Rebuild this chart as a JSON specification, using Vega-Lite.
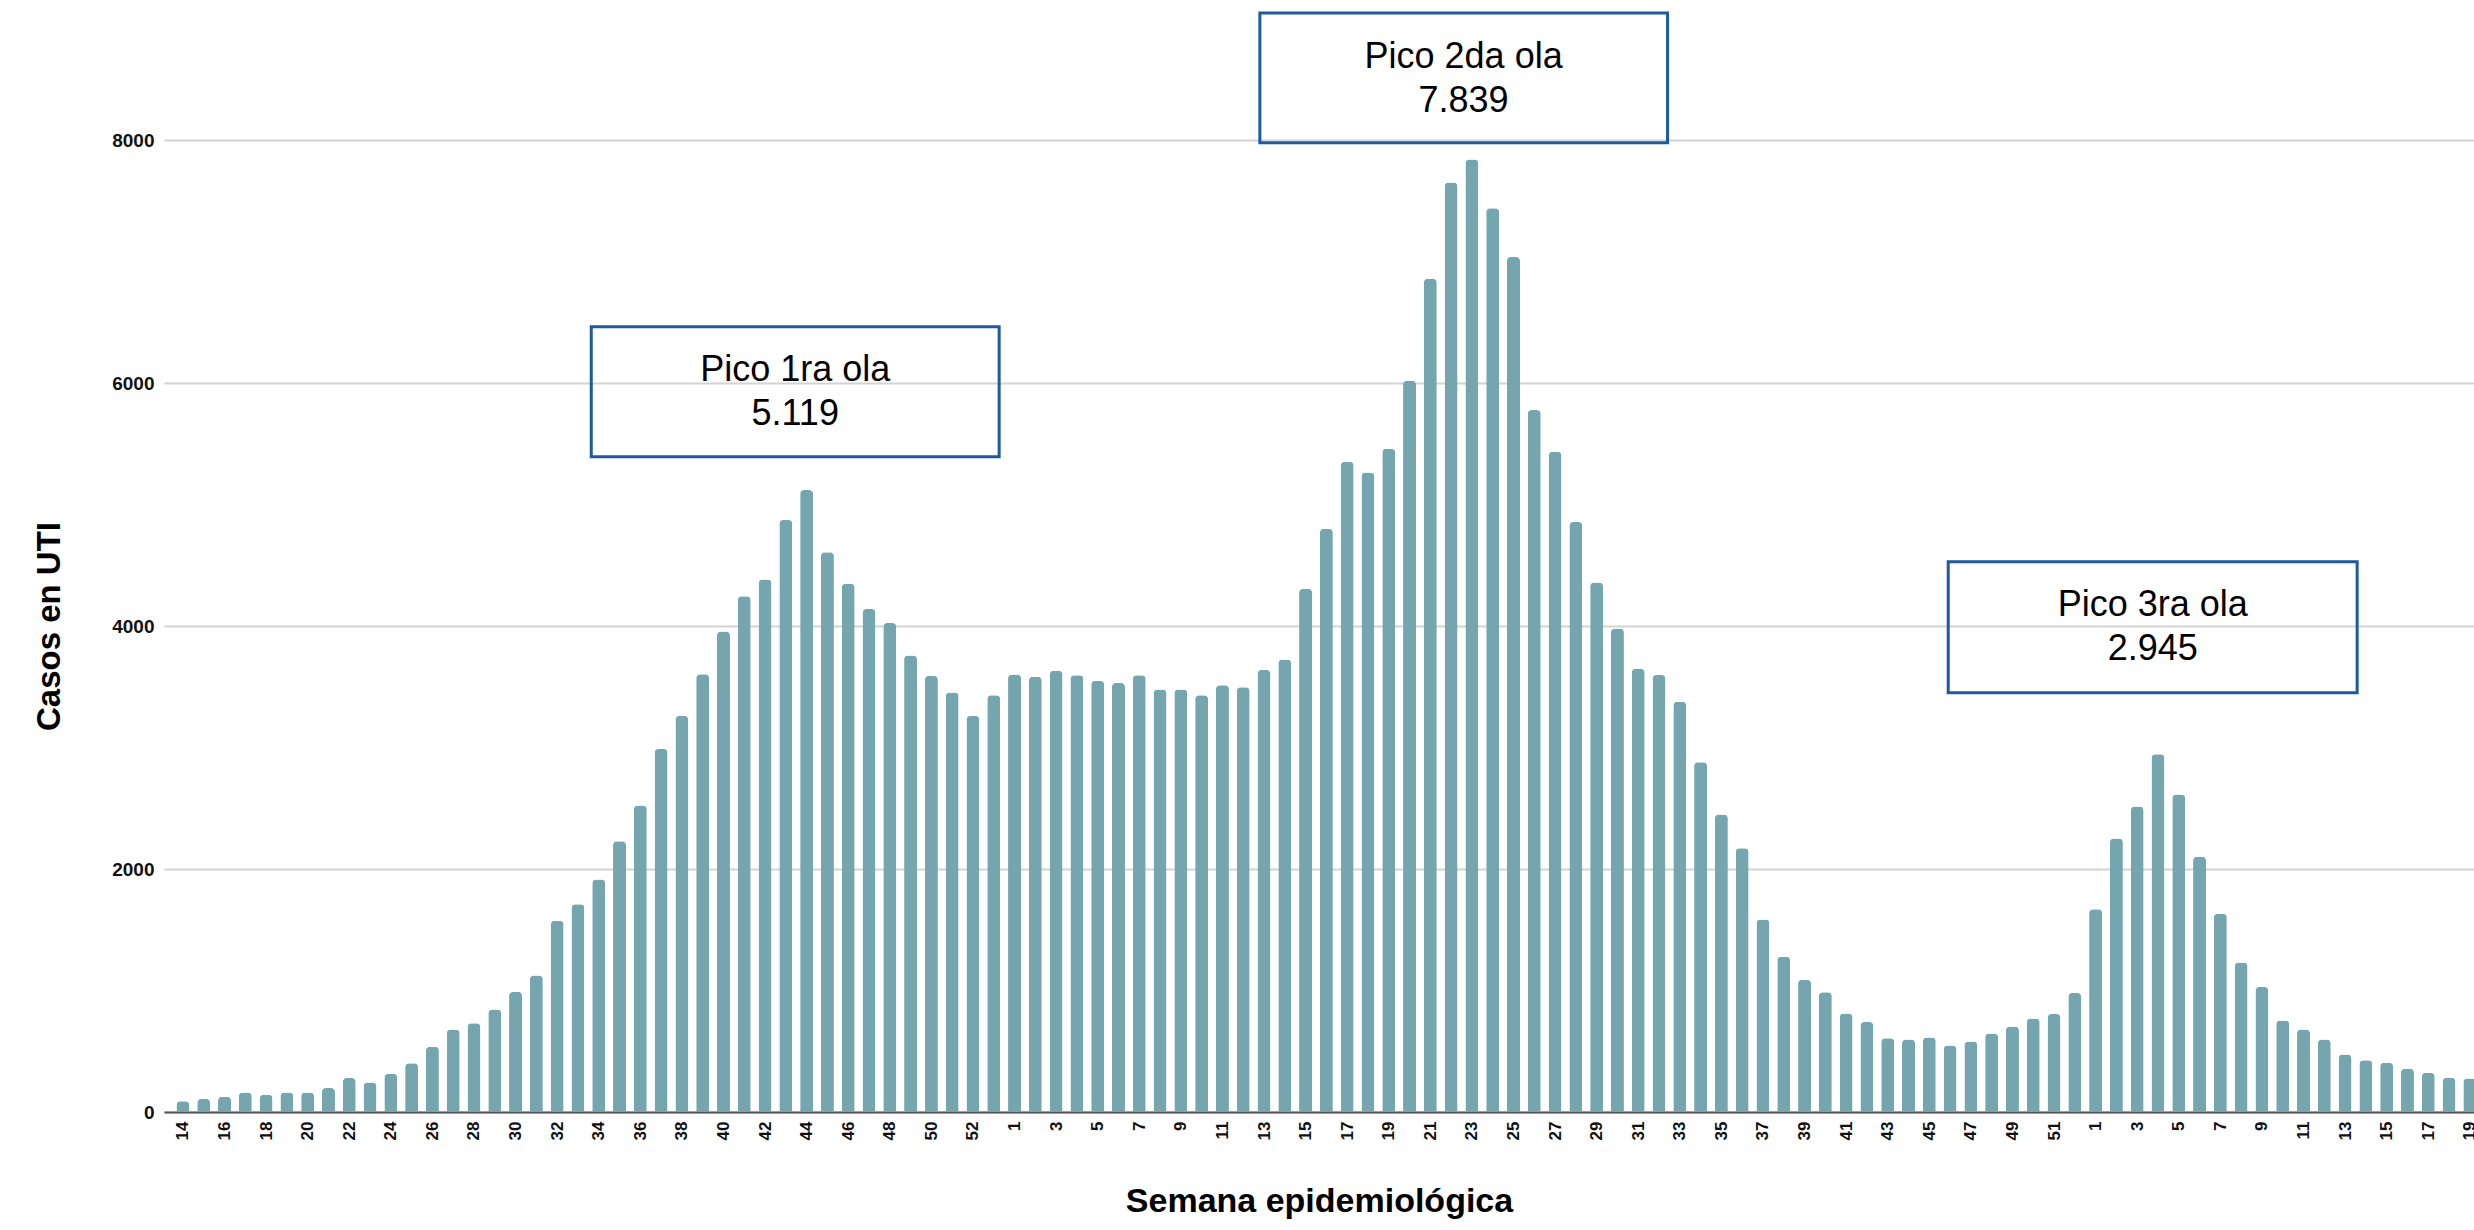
{
  "$schema": "https://vega.github.io/schema/vega-lite/v6.json",
  "width": 2310,
  "height": 972,
  "autosize": {"type": "none"},
  "padding": {"left": 164, "top": 140, "right": 0, "bottom": 118},
  "background": "white",
  "config": {"view": {"stroke": null}, "font": "Liberation Sans"},
  "datasets": {
    "casos": [
      {"orden": 0, "anio": 2020, "semana": 14, "casos": 89},
      {"orden": 1, "anio": 2020, "semana": 15, "casos": 107},
      {"orden": 2, "anio": 2020, "semana": 16, "casos": 125},
      {"orden": 3, "anio": 2020, "semana": 17, "casos": 161},
      {"orden": 4, "anio": 2020, "semana": 18, "casos": 143},
      {"orden": 5, "anio": 2020, "semana": 19, "casos": 161},
      {"orden": 6, "anio": 2020, "semana": 20, "casos": 161},
      {"orden": 7, "anio": 2020, "semana": 21, "casos": 197},
      {"orden": 8, "anio": 2020, "semana": 22, "casos": 279},
      {"orden": 9, "anio": 2020, "semana": 23, "casos": 243},
      {"orden": 10, "anio": 2020, "semana": 24, "casos": 315},
      {"orden": 11, "anio": 2020, "semana": 25, "casos": 401},
      {"orden": 12, "anio": 2020, "semana": 26, "casos": 537},
      {"orden": 13, "anio": 2020, "semana": 27, "casos": 680},
      {"orden": 14, "anio": 2020, "semana": 28, "casos": 730},
      {"orden": 15, "anio": 2020, "semana": 29, "casos": 844},
      {"orden": 16, "anio": 2020, "semana": 30, "casos": 988},
      {"orden": 17, "anio": 2020, "semana": 31, "casos": 1124},
      {"orden": 18, "anio": 2020, "semana": 32, "casos": 1574},
      {"orden": 19, "anio": 2020, "semana": 33, "casos": 1710},
      {"orden": 20, "anio": 2020, "semana": 34, "casos": 1914},
      {"orden": 21, "anio": 2020, "semana": 35, "casos": 2229},
      {"orden": 22, "anio": 2020, "semana": 36, "casos": 2523},
      {"orden": 23, "anio": 2020, "semana": 37, "casos": 2988},
      {"orden": 24, "anio": 2020, "semana": 38, "casos": 3260},
      {"orden": 25, "anio": 2020, "semana": 39, "casos": 3603},
      {"orden": 26, "anio": 2020, "semana": 40, "casos": 3954},
      {"orden": 27, "anio": 2020, "semana": 41, "casos": 4244},
      {"orden": 28, "anio": 2020, "semana": 42, "casos": 4383},
      {"orden": 29, "anio": 2020, "semana": 43, "casos": 4873},
      {"orden": 30, "anio": 2020, "semana": 44, "casos": 5119},
      {"orden": 31, "anio": 2020, "semana": 45, "casos": 4608},
      {"orden": 32, "anio": 2020, "semana": 46, "casos": 4347},
      {"orden": 33, "anio": 2020, "semana": 47, "casos": 4140},
      {"orden": 34, "anio": 2020, "semana": 48, "casos": 4025},
      {"orden": 35, "anio": 2020, "semana": 49, "casos": 3757},
      {"orden": 36, "anio": 2020, "semana": 50, "casos": 3589},
      {"orden": 37, "anio": 2020, "semana": 51, "casos": 3453},
      {"orden": 38, "anio": 2020, "semana": 52, "casos": 3260},
      {"orden": 39, "anio": 2020, "semana": 53, "casos": 3431},
      {"orden": 40, "anio": 2021, "semana": 1, "casos": 3600},
      {"orden": 41, "anio": 2021, "semana": 2, "casos": 3583},
      {"orden": 42, "anio": 2021, "semana": 3, "casos": 3631},
      {"orden": 43, "anio": 2021, "semana": 4, "casos": 3595},
      {"orden": 44, "anio": 2021, "semana": 5, "casos": 3548},
      {"orden": 45, "anio": 2021, "semana": 6, "casos": 3530},
      {"orden": 46, "anio": 2021, "semana": 7, "casos": 3595},
      {"orden": 47, "anio": 2021, "semana": 8, "casos": 3477},
      {"orden": 48, "anio": 2021, "semana": 9, "casos": 3477},
      {"orden": 49, "anio": 2021, "semana": 10, "casos": 3430},
      {"orden": 50, "anio": 2021, "semana": 11, "casos": 3512},
      {"orden": 51, "anio": 2021, "semana": 12, "casos": 3495},
      {"orden": 52, "anio": 2021, "semana": 13, "casos": 3637},
      {"orden": 53, "anio": 2021, "semana": 14, "casos": 3725},
      {"orden": 54, "anio": 2021, "semana": 15, "casos": 4305},
      {"orden": 55, "anio": 2021, "semana": 16, "casos": 4801},
      {"orden": 56, "anio": 2021, "semana": 17, "casos": 5351},
      {"orden": 57, "anio": 2021, "semana": 18, "casos": 5263},
      {"orden": 58, "anio": 2021, "semana": 19, "casos": 5458},
      {"orden": 59, "anio": 2021, "semana": 20, "casos": 6019},
      {"orden": 60, "anio": 2021, "semana": 21, "casos": 6859},
      {"orden": 61, "anio": 2021, "semana": 22, "casos": 7651},
      {"orden": 62, "anio": 2021, "semana": 23, "casos": 7839},
      {"orden": 63, "anio": 2021, "semana": 24, "casos": 7439},
      {"orden": 64, "anio": 2021, "semana": 25, "casos": 7037},
      {"orden": 65, "anio": 2021, "semana": 26, "casos": 5777},
      {"orden": 66, "anio": 2021, "semana": 27, "casos": 5434},
      {"orden": 67, "anio": 2021, "semana": 28, "casos": 4855},
      {"orden": 68, "anio": 2021, "semana": 29, "casos": 4358},
      {"orden": 69, "anio": 2021, "semana": 30, "casos": 3980},
      {"orden": 70, "anio": 2021, "semana": 31, "casos": 3648},
      {"orden": 71, "anio": 2021, "semana": 32, "casos": 3597},
      {"orden": 72, "anio": 2021, "semana": 33, "casos": 3377},
      {"orden": 73, "anio": 2021, "semana": 34, "casos": 2878},
      {"orden": 74, "anio": 2021, "semana": 35, "casos": 2448},
      {"orden": 75, "anio": 2021, "semana": 36, "casos": 2170},
      {"orden": 76, "anio": 2021, "semana": 37, "casos": 1584},
      {"orden": 77, "anio": 2021, "semana": 38, "casos": 1278},
      {"orden": 78, "anio": 2021, "semana": 39, "casos": 1088},
      {"orden": 79, "anio": 2021, "semana": 40, "casos": 985},
      {"orden": 80, "anio": 2021, "semana": 41, "casos": 811},
      {"orden": 81, "anio": 2021, "semana": 42, "casos": 740},
      {"orden": 82, "anio": 2021, "semana": 43, "casos": 606},
      {"orden": 83, "anio": 2021, "semana": 44, "casos": 597},
      {"orden": 84, "anio": 2021, "semana": 45, "casos": 614},
      {"orden": 85, "anio": 2021, "semana": 46, "casos": 547},
      {"orden": 86, "anio": 2021, "semana": 47, "casos": 580},
      {"orden": 87, "anio": 2021, "semana": 48, "casos": 647},
      {"orden": 88, "anio": 2021, "semana": 49, "casos": 703},
      {"orden": 89, "anio": 2021, "semana": 50, "casos": 770},
      {"orden": 90, "anio": 2021, "semana": 51, "casos": 806},
      {"orden": 91, "anio": 2021, "semana": 52, "casos": 979},
      {"orden": 92, "anio": 2022, "semana": 1, "casos": 1668},
      {"orden": 93, "anio": 2022, "semana": 2, "casos": 2252},
      {"orden": 94, "anio": 2022, "semana": 3, "casos": 2514},
      {"orden": 95, "anio": 2022, "semana": 4, "casos": 2945},
      {"orden": 96, "anio": 2022, "semana": 5, "casos": 2614},
      {"orden": 97, "anio": 2022, "semana": 6, "casos": 2100},
      {"orden": 98, "anio": 2022, "semana": 7, "casos": 1632},
      {"orden": 99, "anio": 2022, "semana": 8, "casos": 1231},
      {"orden": 100, "anio": 2022, "semana": 9, "casos": 1028},
      {"orden": 101, "anio": 2022, "semana": 10, "casos": 753},
      {"orden": 102, "anio": 2022, "semana": 11, "casos": 680},
      {"orden": 103, "anio": 2022, "semana": 12, "casos": 597},
      {"orden": 104, "anio": 2022, "semana": 13, "casos": 474},
      {"orden": 105, "anio": 2022, "semana": 14, "casos": 425},
      {"orden": 106, "anio": 2022, "semana": 15, "casos": 405},
      {"orden": 107, "anio": 2022, "semana": 16, "casos": 355},
      {"orden": 108, "anio": 2022, "semana": 17, "casos": 322},
      {"orden": 109, "anio": 2022, "semana": 18, "casos": 282},
      {"orden": 110, "anio": 2022, "semana": 19, "casos": 275}
    ],
    "picos": [
      {"etiqueta": "Pico 1ra ola\n5.119", "desde": 19.64, "hasta": 39.26, "inf": 5393, "sup": 6463, "xt": 29.45, "yt": 6016},
      {"etiqueta": "Pico 2da ola\n7.839", "desde": 51.8, "hasta": 71.41, "inf": 7978, "sup": 9045, "xt": 61.6, "yt": 8593},
      {"etiqueta": "Pico 3ra ola\n2.945", "desde": 84.91, "hasta": 104.58, "inf": 3451, "sup": 4529, "xt": 94.75, "yt": 4082}
    ]
  },
  "layer": [
    {
      "data": {"name": "casos"},
      "mark": {"type": "bar", "width": 13, "color": "#75a5af", "cornerRadiusTopLeft": 4, "cornerRadiusTopRight": 4},
      "encoding": {
        "x": {
          "field": "orden", "type": "quantitative", "title": "Semana epidemiológica",
          "scale": {"domain": [-0.6705, 109.96], "nice": false, "zero": false},
          "axis": {
            "values": [0,2,4,6,8,10,12,14,16,18,20,22,24,26,28,30,32,34,36,38,40,42,44,46,48,50,52,54,56,58,60,62,64,66,68,70,72,74,76,78,80,82,84,86,88,90,92,94,96,98,100,102,104,106,108,110],
            "labelExpr": "datum.value < 40 ? datum.value + 14 : (datum.value < 92 ? datum.value - 39 : datum.value - 91)",
            "labelAngle": -90, "labelAlign": "right", "labelBaseline": "middle",
            "labelFontSize": 17, "labelFontWeight": "bold", "labelPadding": 9, "labelColor": "#111", "labelFlush": false, "labelOverlap": false, "labelBound": false,
            "ticks": false, "grid": false, "domainColor": "#555", "domainWidth": 2,
            "titleFontSize": 34, "titleFontWeight": "bold", "titleColor": "#000", "titlePadding": 45
          }
        },
        "y": {
          "field": "casos", "type": "quantitative", "title": "Casos en UTI",
          "scale": {"domain": [0, 8000], "nice": false},
          "axis": {
            "values": [0, 2000, 4000, 6000, 8000], "format": "d",
            "domain": false, "ticks": false, "gridColor": "#d3d3d3", "gridWidth": 2,
            "labelFontSize": 19, "labelFontWeight": "bold", "labelPadding": 10, "labelColor": "#111",
            "titleFontSize": 33, "titleFontWeight": "bold", "titleColor": "#000", "titlePadding": 45
          }
        }
      }
    },
    {
      "data": {"name": "picos"},
      "mark": {"type": "rect", "fillOpacity": 0, "stroke": "#1f5b9c", "strokeWidth": 3},
      "encoding": {
        "x": {"field": "desde", "type": "quantitative", "title": "Semana epidemiológica"},
        "x2": {"field": "hasta"},
        "y": {"field": "inf", "type": "quantitative", "title": "Casos en UTI"},
        "y2": {"field": "sup"}
      }
    },
    {
      "data": {"name": "picos"},
      "mark": {"type": "text", "fontSize": 36, "lineBreak": "\n", "lineHeight": 44, "align": "center", "baseline": "alphabetic", "color": "#000"},
      "encoding": {
        "x": {"field": "xt", "type": "quantitative", "title": "Semana epidemiológica"},
        "y": {"field": "yt", "type": "quantitative", "title": "Casos en UTI"},
        "text": {"field": "etiqueta"}
      }
    }
  ]
}
